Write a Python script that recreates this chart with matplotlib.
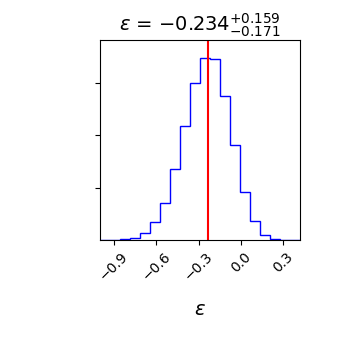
import numpy as np
import matplotlib
matplotlib.use("Agg")
import matplotlib.pyplot as plt

# histogram (density-like heights)
bin_lo = -1.0
bin_hi = 0.42
heights = [0.0, 0.0, 0.012, 0.045, 0.134, 0.35, 0.713, 1.357, 2.166, 3.0,
           3.465, 3.44, 2.752, 1.809, 0.924, 0.369, 0.096, 0.01, 0.0, 0.0]
median = -0.234
err_plus = 0.159
err_minus = 0.171
xticks = [-0.9, -0.6, -0.3, 0.0, 0.3]
xtick_labels = ["−0.9", "−0.6", "−0.3", "0.0", "0.3"]
yticks = [1, 2, 3]

edges = np.linspace(bin_lo, bin_hi, len(heights) + 1)

fig = plt.figure(figsize=(3.4, 3.4), dpi=100)
ax = fig.add_axes([100/340, 100/340, 200/340, 200/340])
ax.stairs(heights, edges, color="blue", linewidth=1.0, baseline=0)
ax.axvline(median, color="red", linewidth=1.5)
ax.set_xlim(bin_lo, bin_hi)
ax.set_ylim(0, 1.1 * max(heights))
ax.set_yticks(yticks)
ax.set_yticklabels([])
ax.set_xticks(xticks)
ax.set_xticklabels(xtick_labels, rotation=45, fontsize=10)
ax.set_xlabel(r"$\epsilon$", fontsize=14, labelpad=12)
title = r"$\epsilon$ = " + f"${median:.3f}_{{-{err_minus:.3f}}}^{{+{err_plus:.3f}}}$"
ax.set_title(title.replace("-0.234", "−0.234"), fontsize=14)
fig.savefig("out.png", dpi=100)
